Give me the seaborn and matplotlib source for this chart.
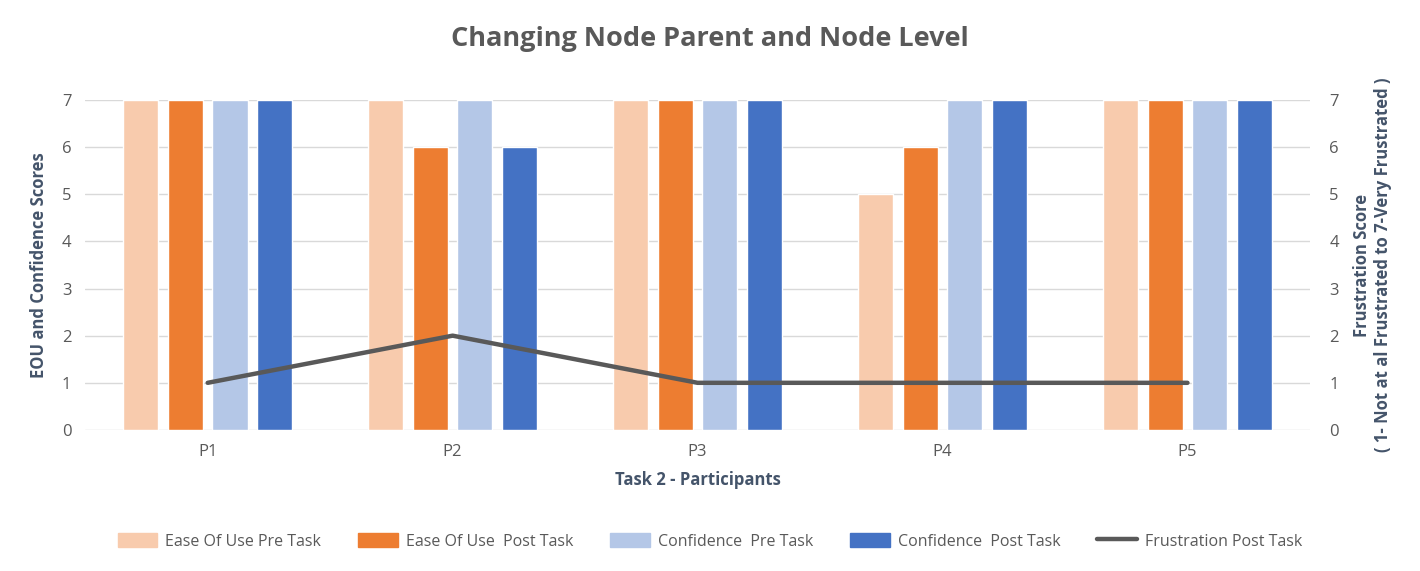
import pandas as pd
import matplotlib.pyplot as plt
import seaborn as sns
from matplotlib.lines import Line2D
from matplotlib.patches import Patch

participants = ["P1", "P2", "P3", "P4", "P5"]
ease_pre = [7, 7, 7, 5, 7]
ease_post = [7, 6, 7, 6, 7]
conf_pre = [7, 7, 7, 7, 7]
conf_post = [7, 6, 7, 7, 7]
frustration_post = [1, 2, 1, 1, 1]

series_names = ["Ease Of Use Pre Task", "Ease Of Use  Post Task",
                "Confidence  Pre Task", "Confidence  Post Task"]
colors = ["#F8CBAD", "#ED7D31", "#B4C7E7", "#4472C4"]
line_color = "#595959"
text_color = "#595959"
label_color = "#44546A"

# long format for seaborn
rows = []
for name, vals in zip(series_names, [ease_pre, ease_post, conf_pre, conf_post]):
    for p, v in zip(participants, vals):
        rows.append({"Participant": p, "Series": name, "Score": v})
df = pd.DataFrame(rows)

sns.set_style("white")
plt.rcParams['font.family'] = ['Open Sans', 'DejaVu Sans']

fig = plt.figure(figsize=(14.2, 5.71), dpi=100)
ax = fig.add_axes([0.06, 0.247, 0.8625, 0.578])

sns.barplot(data=df, x="Participant", y="Score", hue="Series",
            palette=colors, saturation=1, width=0.727, gap=0.21, ax=ax,
            legend=False)

ax.set_xlim(-0.5, 4.5)
ax.set_ylim(0, 7)
ax.set_yticks(range(0, 8))
ax.yaxis.grid(True, color="#D9D9D9", linewidth=1)
ax.set_axisbelow(True)
for s in ax.spines.values():
    s.set_visible(False)
ax.tick_params(axis="both", colors=text_color, labelsize=12, length=0, pad=10)
ax.set_xlabel("Task 2 - Participants", color=label_color, fontsize=12,
              fontweight="bold", labelpad=8)
ax.set_ylabel("EOU and Confidence Scores", color=label_color, fontsize=12,
              fontweight="bold", labelpad=10)

ax2 = ax.twinx()
sns.lineplot(x=list(range(len(participants))), y=frustration_post, ax=ax2,
             color=line_color, linewidth=3.2)
ax2.set_ylim(0, 7)
ax2.set_yticks(range(0, 8))
for s in ax2.spines.values():
    s.set_visible(False)
ax2.tick_params(axis="y", colors=text_color, labelsize=12, length=0, pad=14)
ax2.set_ylabel("Frustration Score\n( 1- Not at al Frustrated to 7-Very Frustrated )",
               color=label_color, fontsize=12, fontweight="bold", labelpad=10)

fig.suptitle("Changing Node Parent and Node Level", x=0.5, y=0.955,
             color=text_color, fontsize=19.5, fontweight="bold")

handles = [Patch(color=c, label=n) for c, n in zip(colors, series_names)]
handles.append(Line2D([0], [0], color=line_color, linewidth=3.2,
                      label="Frustration Post Task"))
fig.legend(handles=handles, loc="center", bbox_to_anchor=(0.5, 0.052), ncol=5,
           frameon=False, fontsize=11.5, labelcolor=text_color,
           handlelength=2.5, handleheight=1.0, handletextpad=0.5,
           columnspacing=2.3)

plt.savefig("out.png", dpi=100)
